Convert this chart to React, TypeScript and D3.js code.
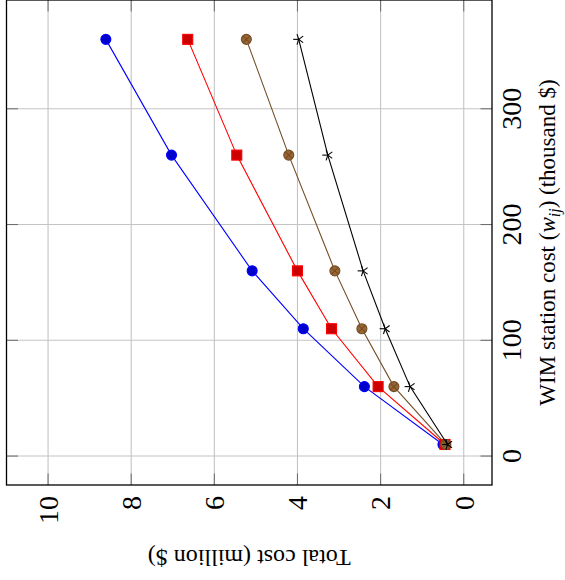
import React from "react";
import * as d3 from "d3";

// WIM station cost (thousand $) for each run
const wimCost = [10, 60, 110, 160, 260, 360];
// Total cost (million $) per configuration
const seriesBlue = [0.5, 2.39, 3.86, 5.09, 7.03, 8.61];
const seriesRed = [0.45, 2.06, 3.18, 4.0, 5.46, 6.64];
const seriesBrown = [0.43, 1.68, 2.45, 3.1, 4.21, 5.23];
const seriesBlack = [0.39, 1.29, 1.89, 2.42, 3.27, 3.97];

const wimTicks = [0, 100, 200, 300];
const costTicks = [0, 2, 4, 6, 8, 10];

// Plot area in the un-rotated frame: u runs along the WIM axis, v along the cost axis
const PU = 485;
const PV = 485.5;

const textStyle: React.CSSProperties = {
  fontFamily: '"Liberation Serif", "Times New Roman", "DejaVu Serif", serif',
};

type MarkKind = "circle" | "square" | "otimes" | "star";

const seriesDefs: { values: number[]; line: string; fill: string; mark: MarkKind }[] = [
  { values: seriesBlue, line: "#0000ff", fill: "#0000cc", mark: "circle" },
  { values: seriesRed, line: "#ff0000", fill: "#cc0000", mark: "square" },
  { values: seriesBrown, line: "#734d26", fill: "#996633", mark: "otimes" },
  { values: seriesBlack, line: "#000000", fill: "#000000", mark: "star" },
];

function Marker({ kind, x, y, line, fill }: { kind: MarkKind; x: number; y: number; line: string; fill: string }) {
  const r = 5;
  if (kind === "circle") {
    return <circle cx={x} cy={y} r={r} fill={fill} stroke={line} strokeWidth={1.1} />;
  }
  if (kind === "square") {
    return <rect x={x - r} y={y - r} width={2 * r} height={2 * r} fill={fill} stroke={line} strokeWidth={1.1} />;
  }
  if (kind === "otimes") {
    const d = r * 0.7071;
    return (
      <g stroke={line} strokeWidth={1.1}>
        <circle cx={x} cy={y} r={r} fill={fill} />
        <line x1={x - d} y1={y - d} x2={x + d} y2={y + d} />
        <line x1={x - d} y1={y + d} x2={x + d} y2={y - d} />
      </g>
    );
  }
  const rr = 5.5;
  return (
    <g stroke={line} strokeWidth={1.1}>
      {d3.range(5).map((k) => {
        const a = (k * 72 * Math.PI) / 180;
        return <line key={k} x1={x} y1={y} x2={x + rr * Math.sin(a)} y2={y - rr * Math.cos(a)} />;
      })}
    </g>
  );
}

export default function App() {
  const xScale = d3.scaleLinear().domain([-25, 394]).range([0, PU]);
  const yScale = d3.scaleLinear().domain([-0.68, 11.0]).range([PV, 0]);

  const lineGen = d3
    .line<[number, number]>()
    .x((d) => xScale(d[0]))
    .y((d) => yScale(d[1]));

  const tickLen = 11.5;

  return (
    <svg width={565} height={580} style={{ position: "absolute", left: 0, top: 0, background: "#ffffff" }}>
      <rect width={565} height={580} fill="#ffffff" />
      <g transform="translate(6.5,485) rotate(-90)">
        {/* grid */}
        {wimTicks.map((t) => (
          <line key={"gx" + t} x1={xScale(t)} x2={xScale(t)} y1={0} y2={PV} stroke="#c4c4c4" strokeWidth={1.1} />
        ))}
        {costTicks.map((t) => (
          <line key={"gy" + t} x1={0} x2={PU} y1={yScale(t)} y2={yScale(t)} stroke="#c4c4c4" strokeWidth={1.1} />
        ))}
        {/* tick marks on all four sides */}
        {wimTicks.map((t) => (
          <g key={"tx" + t} stroke="#6a6a6a" strokeWidth={1}>
            <line x1={xScale(t)} x2={xScale(t)} y1={PV} y2={PV - tickLen} />
            <line x1={xScale(t)} x2={xScale(t)} y1={0} y2={tickLen} />
          </g>
        ))}
        {costTicks.map((t) => (
          <g key={"ty" + t} stroke="#6a6a6a" strokeWidth={1}>
            <line x1={0} x2={tickLen} y1={yScale(t)} y2={yScale(t)} />
            <line x1={PU} x2={PU - tickLen} y1={yScale(t)} y2={yScale(t)} />
          </g>
        ))}

        {/* series */}
        {seriesDefs.map((s, i) => {
          const pts = wimCost.map((w, j) => [w, s.values[j]] as [number, number]);
          return (
            <g key={"s" + i}>
              <path d={lineGen(pts) || ""} fill="none" stroke={s.line} strokeWidth={1.1} />
              {pts.map((p, j) => (
                <Marker key={j} kind={s.mark} x={xScale(p[0])} y={yScale(p[1])} line={s.line} fill={s.fill} />
              ))}
            </g>
          );
        })}

        {/* frame */}
        <rect x={0} y={0} width={PU} height={PV} fill="none" stroke="#000000" strokeWidth={1.3} />

        {/* WIM tick labels */}
        {wimTicks.map((t) => (
          <text key={"lx" + t} x={xScale(t)} y={PV + 29} textAnchor="middle" fontSize={28} fill="#000" style={textStyle}>
            {t}
          </text>
        ))}
        {/* cost tick labels */}
        {costTicks.map((t) => (
          <text key={"ly" + t} x={-11} y={yScale(t)} dy="0.35em" textAnchor="end" fontSize={28} fill="#000" style={textStyle}>
            {t}
          </text>
        ))}

        {/* axis titles */}
        <text x={PU / 2} y={PV + 63} textAnchor="middle" fontSize={23} fill="#000" style={textStyle}>
          WIM station cost (<tspan fontStyle="italic">w</tspan>
          <tspan fontStyle="italic" fontSize={16} dy={5}>ij</tspan>
          <tspan dy={-5}>) (thousand $)</tspan>
        </text>
        <text
          transform={`translate(-65,${PV / 2}) rotate(-90)`}
          textAnchor="middle"
          fontSize={24}
          fill="#000"
          style={textStyle}
        >
          Total cost (million $)
        </text>
      </g>
    </svg>
  );
}
